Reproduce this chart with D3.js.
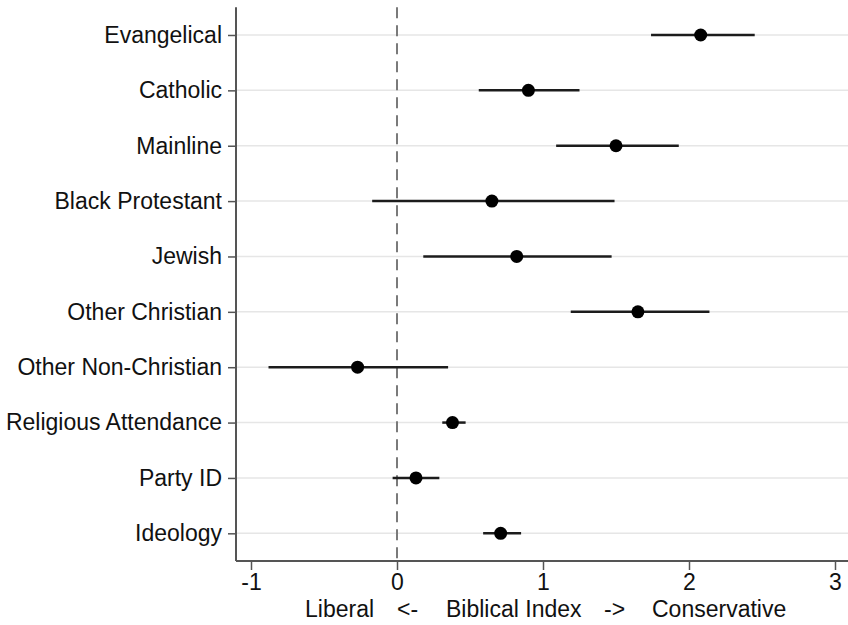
<!DOCTYPE html>
<html>
<head>
<meta charset="utf-8">
<script src="https://cdn.jsdelivr.net/npm/d3@7"></script>
<style>
  html, body { margin: 0; padding: 0; background: #fff; }
  svg { display: block; font-family: "Liberation Sans", Arial, Helvetica, sans-serif; }
</style>
</head>
<body>
<svg id="chart" width="848" height="625"></svg>
<script>
// Coefficient estimates with 95% confidence intervals
const categories = [
  "Evangelical", "Catholic", "Mainline", "Black Protestant", "Jewish",
  "Other Christian", "Other Non-Christian", "Religious Attendance", "Party ID", "Ideology"
];
const estimates = [2.08, 0.90, 1.50, 0.65, 0.82, 1.65, -0.27, 0.38, 0.13, 0.71];
const lower     = [1.74, 0.56, 1.09, -0.17, 0.18, 1.19, -0.88, 0.31, -0.03, 0.59];
const upper     = [2.45, 1.25, 1.93, 1.49, 1.47, 2.14, 0.35, 0.47, 0.29, 0.85];
const xTicks = [-1, 0, 1, 2, 3];
const xTitleParts = ["Liberal", "<-", "Biblical Index", "->", "Conservative"];

const rows = categories.map((c, i) => ({ name: c, est: estimates[i], lo: lower[i], hi: upper[i] }));

const svg = d3.select("#chart");
const plot = { left: 236, right: 848, top: 7.3, bottom: 561 };
const fontSize = 23;
const textColor = "#111";

const x = d3.scaleLinear().domain([-1, 3]).range([251, 835]);
const y = d3.scalePoint().domain(categories).range([plot.top, plot.bottom]).padding(0.5);

// horizontal gridlines
svg.append("g").selectAll("line").data(categories).join("line")
  .attr("x1", plot.left).attr("x2", plot.right)
  .attr("y1", d => y(d)).attr("y2", d => y(d))
  .attr("stroke", "#e6e6e6").attr("stroke-width", 1.5);

// reference line at zero
svg.append("line")
  .attr("x1", x(0)).attr("x2", x(0))
  .attr("y1", plot.top).attr("y2", plot.bottom)
  .attr("stroke", "#7a7a7a").attr("stroke-width", 2)
  .attr("stroke-dasharray", "11,7");

// y axis
const yAxis = svg.append("g")
  .attr("transform", `translate(${plot.left},0)`)
  .call(d3.axisLeft(y).tickSize(8).tickPadding(6));
yAxis.select(".domain").attr("d", `M0,${plot.top}V${plot.bottom}`)
  .attr("stroke", "#555").attr("stroke-width", 2);
yAxis.selectAll(".tick line").attr("stroke", "#555").attr("stroke-width", 1.5);
yAxis.selectAll(".tick text").attr("font-size", fontSize).attr("fill", textColor)
  .attr("font-family", "'Liberation Sans', Arial, sans-serif");

// x axis
const xAxis = svg.append("g")
  .attr("transform", `translate(0,${plot.bottom})`)
  .call(d3.axisBottom(x).tickValues(xTicks).tickFormat(d3.format("d")).tickSize(9).tickPadding(4));
xAxis.select(".domain").attr("d", `M${plot.left},0H${plot.right}`)
  .attr("stroke", "#555").attr("stroke-width", 2);
xAxis.selectAll(".tick line").attr("stroke", "#555").attr("stroke-width", 1.5);
xAxis.selectAll(".tick text").attr("font-size", fontSize).attr("fill", textColor)
  .attr("font-family", "'Liberation Sans', Arial, sans-serif")
  .text(d => d < 0 ? "-" + Math.abs(d) : d);

// axis title, laid out as separate words
const titleX = [305, 397, 446, 604, 652];
svg.append("text")
  .attr("y", 617)
  .attr("font-size", fontSize).attr("fill", textColor)
  .selectAll("tspan").data(xTitleParts).join("tspan")
  .attr("x", (d, i) => titleX[i])
  .text(d => d);

// confidence intervals
svg.append("g").selectAll("line").data(rows).join("line")
  .attr("x1", d => x(d.lo)).attr("x2", d => x(d.hi))
  .attr("y1", d => y(d.name)).attr("y2", d => y(d.name))
  .attr("stroke", "#1c1c1c").attr("stroke-width", 2.5);

// point estimates
svg.append("g").selectAll("circle").data(rows).join("circle")
  .attr("cx", d => x(d.est)).attr("cy", d => y(d.name))
  .attr("r", 6.5).attr("fill", "#000");
</script>
</body>
</html>
